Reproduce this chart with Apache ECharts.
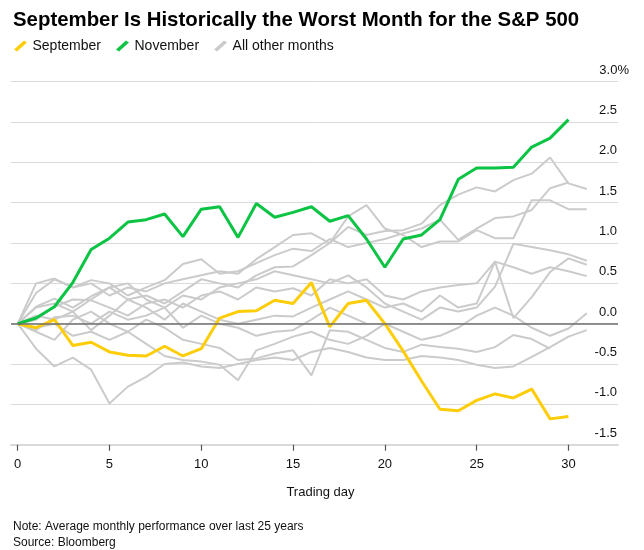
<!DOCTYPE html>
<html><head><meta charset="utf-8">
<script src="https://cdn.jsdelivr.net/npm/echarts@6/dist/echarts.min.js"></script>
<style>html,body{margin:0;padding:0;background:#fff}#c{width:644px;height:550px}</style>
</head><body><div id="c"></div>
<script>
// ---- data (% change vs day 0) ----
const xTicks = [0, 5, 10, 15, 20, 25, 30];
const yTicks = [-1.5, -1.0, -0.5, 0.0, 0.5, 1.0, 1.5, 2.0, 2.5, 3.0];

const september = [0, -0.05, 0.05, -0.27, -0.23, -0.35, -0.39, -0.40, -0.28, -0.40, -0.31, 0.07, 0.15, 0.16, 0.29, 0.25, 0.51, -0.04, 0.25, 0.29, 0.0, -0.34, -0.71, -1.06, -1.08, -0.95, -0.87, -0.92, -0.81, -1.18, -1.15];
const november  = [0, 0.07, 0.21, 0.51, 0.92, 1.06, 1.26, 1.29, 1.36, 1.08, 1.42, 1.45, 1.07, 1.49, 1.32, 1.38, 1.45, 1.27, 1.34, 1.05, 0.70, 1.05, 1.10, 1.29, 1.79, 1.93, 1.93, 1.94, 2.19, 2.30, 2.53];

const other1  = [0, 0.38, 0.55, 0.45, 0.5, 0.35, 0.45, 0.4, 0.5, 0.55, 0.6, 0.65, 0.62, 0.8, 0.95, 1.1, 1.12, 1.0, 1.2, 1.1, 1.15, 1.16, 1.24, 1.47, 1.6, 1.69, 1.64, 1.78, 1.86, 2.06, 1.74, 1.67];
const other2  = [0, 0.2, 0.25, 0.15, 0.3, 0.45, 0.3, 0.35, 0.25, 0.4, 0.55, 0.5, 0.45, 0.6, 0.7, 0.71, 0.85, 1.0, 1.33, 1.47, 1.18, 1.10, 0.95, 1.02, 1.02, 1.16, 1.06, 1.06, 1.53, 1.53, 1.42, 1.42];
const other3  = [0, 0.5, 0.56, 0.45, 0.54, 0.5, 0.35, 0.45, 0.54, 0.74, 0.80, 0.62, 0.65, 0.75, 0.85, 0.93, 0.9, 1.05, 0.95, 1.0, 1.05, 1.12, 1.18, 1.29, 1.04, 1.18, 1.31, 1.33, 1.41, 1.68, 1.75];
const other4  = [0, 0.21, 0.31, 0.2, 0.34, 0.45, 0.5, 0.3, 0.2, 0.35, 0.3, 0.45, 0.5, 0.55, 0.65, 0.60, 0.55, 0.5, 0.6, 0.45, 0.25, 0.15, 0.05, 0.2, 0.15, 0.2, 0.46, 0.99, 0.95, 0.91, 0.86, 0.78];
const other5  = [0, 0.05, 0.21, 0.3, 0.29, 0.2, 0.1, 0.25, 0.3, 0.2, 0.35, 0.4, 0.3, 0.45, 0.4, 0.44, 0.35, 0.55, 0.5, 0.55, 0.35, 0.3, 0.4, 0.45, 0.48, 0.5, 0.77, 0.7, 0.62, 0.7, 0.65, 0.59];
const other6  = [0, 0.1, 0.05, 0.15, -0.08, 0.1, 0.3, 0.2, 0.05, 0.25, 0.15, 0.05, 0.0, 0.05, 0.1, 0.09, 0.2, 0.3, 0.4, 0.3, 0.2, 0.25, 0.15, 0.35, 0.2, 0.25, 0.77, 0.07, 0.33, 0.64, 0.81, 0.73];
const other7  = [0, -0.08, 0.08, 0.1, 0.0, 0.15, 0.05, 0.1, 0.2, -0.05, 0.1, 0.0, -0.05, -0.15, -0.1, -0.08, 0.05, 0.2, 0.1, 0.0];
const other8  = [0, -0.1, -0.2, 0.05, 0.15, 0.0, -0.1, 0.05, -0.05, -0.2, -0.25, -0.3, -0.45, -0.43, -0.37, -0.33, -0.64, -0.08, -0.1, -0.2, -0.3, -0.35, -0.26, -0.29, -0.31, -0.35, -0.29, -0.14, -0.19, -0.31];
const other9  = [0, -0.31, -0.53, -0.42, -0.57, -0.99, -0.78, -0.66, -0.5, -0.48, -0.53, -0.55, -0.5, -0.45, -0.42, -0.45, -0.35, -0.3, -0.35, -0.42, -0.45, -0.45, -0.4, -0.42, -0.45, -0.51, -0.55, -0.53, -0.41, -0.29, -0.16, -0.08];
const other10 = [0, -0.05, 0.0, -0.15, -0.1, -0.2, -0.1, -0.25, -0.4, -0.45, -0.47, -0.51, -0.70, -0.33, -0.25, -0.16, -0.1, -0.2, -0.25, -0.15, 0.0, -0.1, -0.2, -0.15, -0.05, 0.1, 0.2, 0.1, -0.05, -0.15, -0.06, 0.13];
const otherMonths = [other1, other2, other3, other4, other5, other6, other7, other8, other9, other10];

// ---- chart ----
const FONT = '"Liberation Sans", Arial, sans-serif';
const toPairs = arr => arr.map((v, i) => [i, v]);

const grayName = 'All other months';
const series = [];
series.push({
  type: 'line', data: [], silent: true, z: 1,
  markLine: { silent: true, symbol: 'none', label: { show: false },
    lineStyle: { color: '#6e6e6e', width: 1.6, type: 'solid' },
    data: [{ yAxis: 0 }] }
});
otherMonths.forEach(arr => series.push({
  name: grayName, type: 'line', data: toPairs(arr), symbol: 'none', z: 2,
  lineStyle: { color: '#cbcbcb', width: 2 }, itemStyle: { color: '#cbcbcb' }
}));
series.push({ name: 'September', type: 'line', data: toPairs(september), symbol: 'none', z: 3,
  lineStyle: { color: '#fdcd0a', width: 3 }, itemStyle: { color: '#fdcd0a' } });
series.push({ name: 'November', type: 'line', data: toPairs(november), symbol: 'none', z: 4,
  lineStyle: { color: '#0bc443', width: 3 }, itemStyle: { color: '#0bc443' } });

const chart = echarts.init(document.getElementById('c'), null, { renderer: 'canvas' });
chart.setOption({
  backgroundColor: '#fff',
  animation: false,
  textStyle: { fontFamily: FONT },
  title: [
    { text: 'September Is Historically the Worst Month for the S&P 500', left: 8, top: 5,
      textStyle: { fontFamily: FONT, fontSize: 20.4, fontWeight: 'bold', color: '#000' } },
    { text: 'Note: Average monthly performance over last 25 years', left: 8, top: 516,
      textStyle: { fontFamily: FONT, fontSize: 12, fontWeight: 'normal', color: '#111' } },
    { text: 'Source: Bloomberg', left: 8, top: 532,
      textStyle: { fontFamily: FONT, fontSize: 12, fontWeight: 'normal', color: '#111' } }
  ],
  legend: {
    left: 9, top: 34, itemGap: 15, itemWidth: 14, itemHeight: 11,
    icon: 'path://M0,9 L10,0 L13,2 L3,11 Z',
    data: ['September', 'November', grayName],
    textStyle: { fontFamily: FONT, fontSize: 14, color: '#111' },
    selectedMode: false
  },
  grid: { left: 11, right: 26, top: 81.7, bottom: 105.3, containLabel: false },
  xAxis: {
    type: 'value', min: -0.365, max: 32.7,
    name: 'Trading day', nameLocation: 'middle', nameGap: 41,
    nameTextStyle: { fontFamily: FONT, fontSize: 13, color: '#111', padding: [0, 0, 0, 12] },
    axisLine: { show: true, onZero: false, lineStyle: { color: '#d9d9d9', width: 2 } },
    axisTick: { show: true, length: 6, customValues: xTicks, lineStyle: { color: '#555', width: 1.2 } },
    axisLabel: { customValues: xTicks, margin: 13, fontFamily: FONT, fontSize: 13, color: '#111' },
    splitLine: { show: false }
  },
  yAxis: {
    type: 'value', position: 'right', min: yTicks[0], max: yTicks[yTicks.length - 1], interval: 0.5,
    axisLine: { show: false }, axisTick: { show: false },
    splitLine: { show: true, lineStyle: { color: '#dadada', width: 1 } },
    axisLabel: {
      align: 'right', verticalAlign: 'bottom', margin: 11, padding: [0, 0, 5, 0],
      fontFamily: FONT, fontSize: 13, color: '#111',
      formatter: v => v === 3 ? '3.0%' : v.toFixed(1) + '{s| }',
      rich: { s: { width: 12, fontSize: 13 } }
    }
  },
  series: series
});
</script>
</body></html>
